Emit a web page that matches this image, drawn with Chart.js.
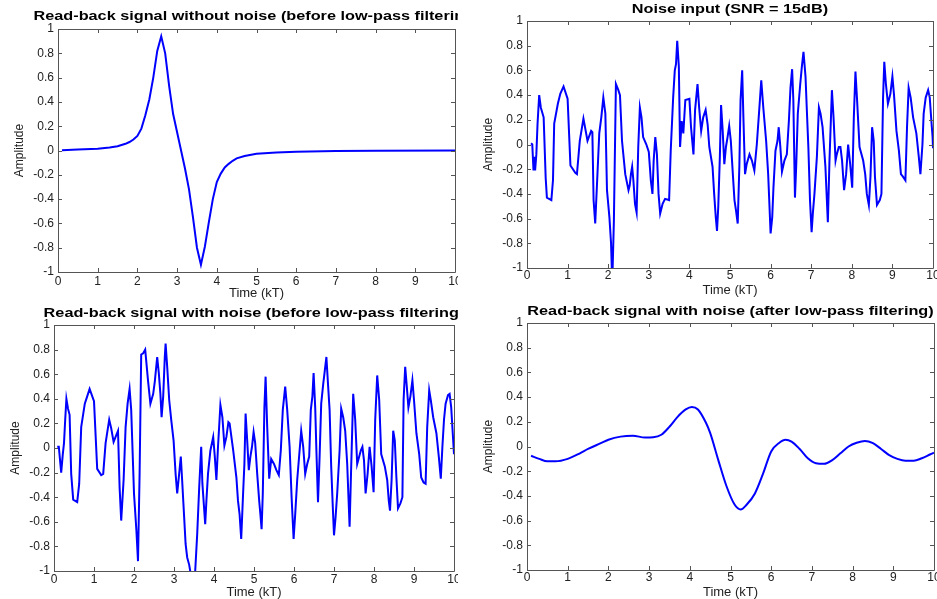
<!DOCTYPE html>
<html>
<head>
<meta charset="utf-8">
<script src="https://cdn.jsdelivr.net/npm/chart.js@4.4.1/dist/chart.umd.min.js"></script>
<style>
html,body{margin:0;padding:0;background:#fff;}
body{width:937px;height:599px;position:relative;overflow:hidden;}
canvas{position:absolute;}
</style>
</head>
<body>
<canvas id="c0"></canvas>
<canvas id="c1"></canvas>
<canvas id="c2"></canvas>
<canvas id="c3"></canvas>
<script>
// tick labels
const xTickValues = [0,1,2,3,4,5,6,7,8,9,10];
const yTickValues = [-1,-0.8,-0.6,-0.4,-0.2,0,0.2,0.4,0.6,0.8,1];

// read-back signal without noise
const cleanTime = [0.1,0.5,1.0,1.3,1.5,1.7,1.8,1.9,2.0,2.1,2.2,2.3,2.4,2.5,2.6,2.7,2.8,2.9,3.0,3.1,3.2,3.3,3.4,3.5,3.6,3.7,3.8,3.9,4.0,4.1,4.2,4.3,4.4,4.5,4.7,5.0,5.5,6.0,7.0,8.0,10.0];
const cleanValues = [0.003,0.008,0.015,0.025,0.035,0.055,0.07,0.09,0.12,0.18,0.29,0.42,0.6,0.82,0.94,0.8,0.53,0.3,0.15,0.0,-0.15,-0.32,-0.55,-0.8,-0.94,-0.79,-0.59,-0.4,-0.26,-0.19,-0.14,-0.11,-0.085,-0.065,-0.045,-0.027,-0.017,-0.01,-0.005,-0.003,0.0];

// noise input
const noiseTime = [0.1,0.13,0.16,0.18,0.2,0.23,0.26,0.3,0.34,0.41,0.46,0.49,0.6,0.64,0.67,0.76,0.82,0.9,1.0,1.07,1.19,1.23,1.3,1.39,1.49,1.58,1.61,1.64,1.68,1.72,1.78,1.83,1.88,1.93,1.97,2.03,2.07,2.1,2.14,2.19,2.25,2.29,2.34,2.42,2.5,2.53,2.56,2.59,2.62,2.66,2.7,2.74,2.78,2.82,2.86,2.94,3.0,3.05,3.09,3.12,3.16,3.2,3.24,3.28,3.34,3.4,3.5,3.54,3.6,3.64,3.67,3.7,3.74,3.77,3.81,3.85,3.9,4.0,4.04,4.1,4.14,4.2,4.24,4.29,4.34,4.4,4.45,4.49,4.57,4.61,4.65,4.68,4.71,4.75,4.78,4.82,4.86,4.9,4.94,4.98,5.02,5.07,5.11,5.15,5.19,5.23,5.26,5.3,5.33,5.37,5.41,5.48,5.54,5.6,5.66,5.72,5.77,5.82,5.89,5.94,5.97,6.0,6.04,6.07,6.12,6.17,6.2,6.24,6.28,6.34,6.4,6.45,6.49,6.53,6.56,6.6,6.63,6.67,6.73,6.77,6.81,6.86,6.89,6.93,6.97,7.01,7.04,7.08,7.14,7.19,7.23,7.28,7.35,7.41,7.45,7.51,7.55,7.6,7.63,7.68,7.72,7.76,7.81,7.86,7.91,7.96,8.01,8.05,8.09,8.13,8.19,8.28,8.33,8.37,8.42,8.46,8.5,8.54,8.57,8.62,8.69,8.73,8.77,8.8,8.84,8.89,8.95,9.0,9.04,9.1,9.16,9.21,9.26,9.32,9.36,9.4,9.45,9.51,9.59,9.65,9.69,9.74,9.77,9.82,9.88,9.92,9.96,9.99,10.0];
const noiseValues = [0.01,0.0,-0.21,-0.1,-0.21,-0.08,0.17,0.4,0.3,0.22,-0.27,-0.43,-0.45,-0.29,0.17,0.33,0.41,0.47,0.37,-0.17,-0.23,-0.24,0.03,0.21,0.03,0.11,0.1,-0.45,-0.64,-0.35,0.09,0.22,0.38,0.25,-0.37,-0.59,-0.8,-1.12,-0.62,0.49,0.44,0.4,0.03,-0.24,-0.37,-0.33,-0.24,-0.18,-0.29,-0.48,-0.55,-0.02,0.3,0.22,0.06,0.0,-0.06,-0.29,-0.4,-0.13,0.06,-0.08,-0.4,-0.56,-0.48,-0.44,-0.45,-0.05,0.38,0.6,0.65,0.84,0.63,-0.02,0.19,0.09,0.36,0.37,0.14,-0.08,0.28,0.49,0.3,0.11,0.22,0.28,0.16,-0.02,-0.18,-0.4,-0.59,-0.7,-0.51,-0.1,0.32,0.11,-0.16,-0.02,0.06,0.15,0.03,-0.24,-0.45,-0.54,-0.64,-0.18,0.36,0.6,0.22,-0.24,-0.16,-0.08,-0.13,-0.21,0.0,0.28,0.52,0.3,0.03,-0.24,-0.48,-0.72,-0.59,-0.35,-0.05,0.03,0.14,-0.02,-0.22,-0.13,-0.08,0.19,0.46,0.61,0.36,-0.43,-0.18,0.25,0.49,0.63,0.75,0.55,0.3,-0.02,-0.45,-0.71,-0.56,-0.4,-0.1,0.3,0.25,0.14,-0.18,-0.63,-0.13,0.44,0.22,-0.13,-0.08,-0.02,-0.02,-0.13,-0.37,-0.24,0.0,-0.16,-0.35,0.22,0.59,0.36,-0.02,-0.13,-0.24,-0.4,-0.49,-0.26,0.14,0.03,-0.26,-0.49,-0.45,-0.4,0.38,0.67,0.49,0.33,0.41,0.55,0.4,0.11,-0.05,-0.24,-0.26,-0.29,0.14,0.46,0.38,0.22,0.09,-0.1,-0.24,0.0,0.25,0.38,0.44,0.38,0.19,0.06,-0.03];

// read-back signal with noise (before low-pass filtering)
const noisyTime = [0.08,0.12,0.18,0.22,0.25,0.28,0.31,0.35,0.39,0.43,0.48,0.58,0.63,0.68,0.77,0.83,0.89,1.0,1.08,1.18,1.23,1.29,1.38,1.43,1.49,1.6,1.64,1.68,1.74,1.79,1.84,1.89,1.93,2.0,2.06,2.1,2.14,2.18,2.23,2.28,2.35,2.41,2.48,2.52,2.58,2.62,2.66,2.69,2.73,2.77,2.79,2.83,2.88,2.93,2.99,3.04,3.08,3.12,3.17,3.2,3.24,3.29,3.33,3.38,3.42,3.47,3.53,3.58,3.63,3.68,3.71,3.78,3.81,3.85,3.91,3.98,4.02,4.06,4.1,4.16,4.21,4.26,4.31,4.36,4.39,4.48,4.56,4.6,4.64,4.68,4.73,4.76,4.79,4.83,4.87,4.91,4.95,4.99,5.03,5.08,5.13,5.16,5.19,5.22,5.26,5.29,5.33,5.38,5.43,5.5,5.56,5.62,5.67,5.72,5.78,5.83,5.89,5.94,5.99,6.03,6.08,6.14,6.18,6.23,6.28,6.33,6.38,6.42,6.46,6.49,6.53,6.56,6.6,6.64,6.68,6.73,6.77,6.81,6.85,6.89,6.93,6.97,7.0,7.04,7.08,7.14,7.18,7.23,7.28,7.33,7.39,7.43,7.48,7.53,7.58,7.63,7.67,7.71,7.75,7.79,7.84,7.89,7.94,7.99,8.03,8.08,8.13,8.18,8.27,8.33,8.37,8.4,8.44,8.48,8.52,8.56,8.6,8.66,8.71,8.74,8.78,8.82,8.86,8.91,8.96,9.0,9.06,9.13,9.18,9.24,9.29,9.33,9.38,9.42,9.48,9.56,9.62,9.67,9.71,9.75,9.79,9.85,9.89,9.93,9.98,10.0];
const noisyValues = [0.01,0.01,-0.2,-0.05,0.04,0.23,0.4,0.32,0.27,-0.21,-0.42,-0.44,-0.29,0.17,0.36,0.42,0.48,0.38,-0.17,-0.22,-0.21,0.04,0.23,0.16,0.05,0.14,-0.32,-0.59,-0.26,0.17,0.36,0.48,0.31,-0.37,-0.67,-0.92,-0.21,0.76,0.77,0.8,0.55,0.36,0.44,0.54,0.74,0.61,0.44,0.25,0.42,0.74,0.85,0.66,0.39,0.23,0.06,-0.21,-0.37,-0.24,-0.07,-0.24,-0.48,-0.78,-0.89,-0.95,-1.03,-1.08,-1.0,-0.7,-0.32,0.01,-0.29,-0.62,-0.43,-0.21,-0.02,0.09,-0.07,-0.26,0.01,0.35,0.25,0.02,0.09,0.21,0.2,-0.02,-0.24,-0.43,-0.54,-0.74,-0.35,-0.13,0.28,0.06,-0.18,-0.07,0.01,0.13,0.04,-0.21,-0.43,-0.54,-0.66,-0.37,0.33,0.58,0.17,-0.25,-0.09,-0.13,-0.18,-0.22,-0.02,0.31,0.5,0.31,0.01,-0.4,-0.74,-0.54,-0.26,-0.02,0.14,0.01,-0.21,-0.13,-0.07,0.31,0.42,0.61,0.33,-0.02,-0.44,-0.07,0.36,0.52,0.63,0.74,0.52,0.31,-0.15,-0.48,-0.71,-0.56,-0.37,-0.02,0.32,0.25,0.14,-0.13,-0.64,-0.15,0.44,0.23,-0.13,-0.07,-0.02,0.01,-0.1,-0.37,-0.21,0.01,-0.15,-0.36,0.23,0.59,0.39,-0.05,-0.15,-0.26,-0.43,-0.51,-0.26,0.14,0.06,-0.24,-0.49,-0.45,-0.4,0.39,0.66,0.5,0.33,0.42,0.55,0.39,0.12,-0.05,-0.24,-0.28,-0.29,0.17,0.47,0.39,0.25,0.12,-0.07,-0.25,0.01,0.23,0.36,0.43,0.44,0.33,0.06,-0.05];

// read-back signal with noise (after low-pass filtering)
const filteredTime = [0.1,0.3,0.5,0.7,1.0,1.3,1.5,1.8,2.0,2.3,2.6,2.9,3.1,3.3,3.5,3.7,3.9,4.05,4.2,4.4,4.5,4.7,4.9,5.1,5.25,5.4,5.6,5.8,6.0,6.2,6.35,6.5,6.7,6.9,7.1,7.3,7.5,7.7,7.9,8.1,8.3,8.5,8.7,8.9,9.1,9.3,9.5,9.7,9.9,10.0];
const filteredValues = [-0.075,-0.1,-0.12,-0.12,-0.1,-0.055,-0.02,0.025,0.055,0.08,0.087,0.073,0.075,0.095,0.16,0.24,0.3,0.32,0.3,0.19,0.11,-0.11,-0.32,-0.47,-0.51,-0.47,-0.38,-0.22,-0.04,0.03,0.055,0.04,-0.02,-0.095,-0.135,-0.14,-0.11,-0.055,0.0,0.03,0.045,0.027,-0.02,-0.07,-0.1,-0.115,-0.115,-0.095,-0.065,-0.05];

const FONT = '"Liberation Sans", Arial, sans-serif';

function toPoints(xs, ys){
    return xs.map((t, i) => ({x: t, y: ys[i]}));
}

// axes box with inward ticks on all four sides, and the bold title
const matlabAxes = {
    id: 'matlabAxes',
    afterDatasetsDraw(chart){
        const {ctx, chartArea: a, scales} = chart;
        const len = 4;
        ctx.save();
        ctx.strokeStyle = '#555';
        ctx.lineWidth = 1;
        ctx.beginPath();
        ctx.rect(Math.round(a.left) + 0.5, Math.round(a.top) + 0.5,
                 Math.round(a.right - a.left), Math.round(a.bottom - a.top));
        xTickValues.forEach(v => {
            const px = Math.round(scales.x.getPixelForValue(v)) + 0.5;
            ctx.moveTo(px, a.bottom); ctx.lineTo(px, a.bottom - len);
            ctx.moveTo(px, a.top); ctx.lineTo(px, a.top + len);
        });
        yTickValues.forEach(v => {
            const py = Math.round(scales.y.getPixelForValue(v)) + 0.5;
            ctx.moveTo(a.left, py); ctx.lineTo(a.left + len, py);
            ctx.moveTo(a.right, py); ctx.lineTo(a.right - len, py);
        });
        ctx.stroke();
        ctx.restore();
    },
    afterDraw(chart, args, opts){
        const {ctx, chartArea: a} = chart;
        const sx = 1.25;
        ctx.save();
        ctx.font = 'bold 13px ' + FONT;
        ctx.fillStyle = '#000';
        ctx.textAlign = 'center';
        ctx.textBaseline = 'alphabetic';
        ctx.scale(sx, 1);
        ctx.fillText(opts.text, (a.left + a.right) / 2 / sx, opts.baseline);
        ctx.restore();
    }
};

const panels = [
    {canvas:'c0', title:'Read-back signal without noise (before low-pass filtering)',
     xs:cleanTime, ys:cleanValues, box:[0,0,458,300], plot:[58,29,455,272],
     titleBase:20, labelGap:2, xTitleMid:293},
    {canvas:'c1', title:'Noise input (SNR = 15dB)',
     xs:noiseTime, ys:noiseValues, box:[470,0,467,300], plot:[527,21,933,268],
     titleBase:12.5, labelGap:0, xTitleMid:290},
    {canvas:'c2', title:'Read-back signal with noise (before low-pass filtering)',
     xs:noisyTime, ys:noisyValues, box:[0,300,458,299], plot:[54,325,454,571],
     titleBase:316.5, labelGap:1.7, xTitleMid:592},
    {canvas:'c3', title:'Read-back signal with noise (after low-pass filtering)',
     xs:filteredTime, ys:filteredValues, box:[470,300,467,299], plot:[527,323,934,570],
     titleBase:315, labelGap:0.7, xTitleMid:592, smooth:true}
];

panels.forEach(p => {
    const [bx, by, bw, bh] = p.box;
    const [pl, pt, pr, pb] = p.plot;
    const el = document.getElementById(p.canvas);
    el.width = bw; el.height = bh;
    el.style.left = bx + 'px'; el.style.top = by + 'px';
    el.style.width = bw + 'px'; el.style.height = bh + 'px';

    new Chart(el.getContext('2d'), {
        type:'line',
        data:{
            datasets:[{
                data: toPoints(p.xs, p.ys),
                borderColor:'#0000ff',
                borderWidth:2,
                pointRadius:0,
                fill:false,
                tension:0,
                cubicInterpolationMode: p.smooth ? 'monotone' : 'default',
                clip:0
            }]
        },
        options:{
            responsive:false,
            animation:false,
            events:[],
            layout:{padding:{left:0, top:pt - by, right:bx + bw - pr, bottom:0}},
            plugins:{
                legend:{display:false},
                tooltip:{enabled:false},
                matlabAxes:{text:p.title, baseline:p.titleBase - by}
            },
            scales:{
                x:{
                    type:'linear', min:0, max:10,
                    grid:{display:false, drawTicks:false},
                    border:{display:false},
                    ticks:{
                        autoSkip:false, maxRotation:0, padding:p.labelGap,
                        color:'#222', font:{family:FONT, size:12},
                        callback: v => String(v)
                    },
                    afterBuildTicks: s => { s.ticks = xTickValues.map(v => ({value:v})); },
                    afterFit: s => { s.height = by + bh - pb; s.paddingLeft = 0; s.paddingRight = 0; },
                    title:{
                        display:true, text:'Time (kT)', color:'#222',
                        font:{family:FONT, size:13},
                        padding:{top:0, bottom:by + bh - p.xTitleMid - 7.8}
                    }
                },
                y:{
                    type:'linear', min:-1, max:1,
                    grid:{display:false, drawTicks:false},
                    border:{display:false},
                    ticks:{
                        padding:4, color:'#222', font:{family:FONT, size:12},
                        callback: v => String(v)
                    },
                    afterBuildTicks: s => { s.ticks = yTickValues.map(v => ({value:v})); },
                    afterFit: s => { s.width = pl - bx; s.paddingTop = 0; s.paddingBottom = 0; },
                    title:{
                        display:true, text:'Amplitude', color:'#222',
                        font:{family:FONT, size:12},
                        padding:{top:pl - 38 - bx - 7.2, bottom:0}
                    }
                }
            }
        },
        plugins:[matlabAxes]
    });
});
</script>
</body>
</html>
